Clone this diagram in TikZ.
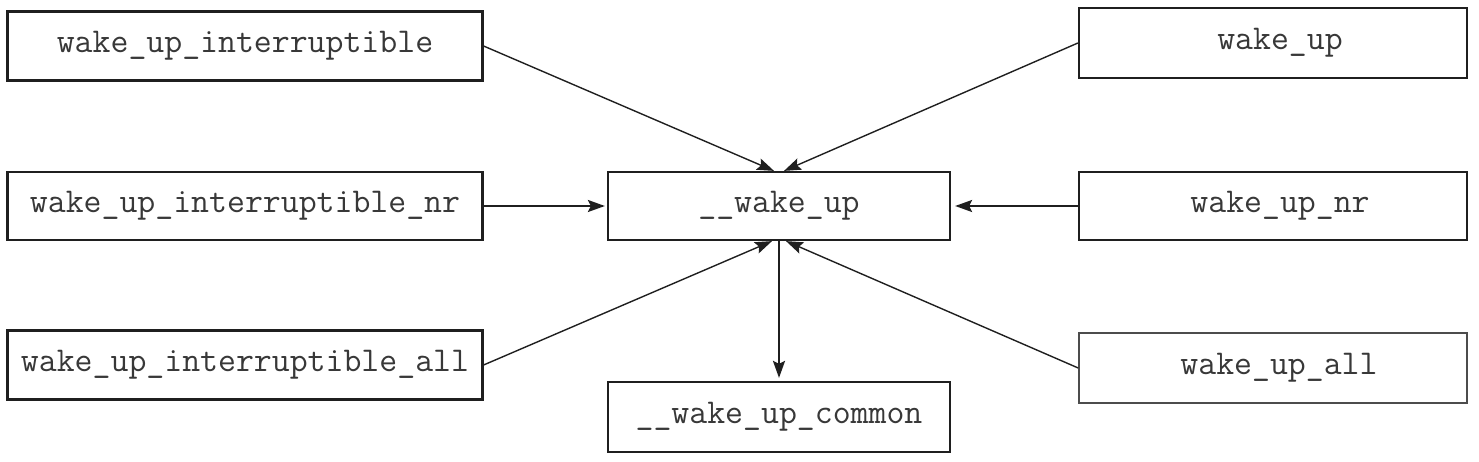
\documentclass[tikz,border=0pt]{standalone}
\usepackage{fontspec}
\usetikzlibrary{arrows.meta,positioning}

\begin{document}
\begin{tikzpicture}[x=1pt,y=-1pt,
    fn/.style={draw=black!88,line width=2.2pt,fill=white,inner sep=0pt,
      text=black!78,font=\ttfamily\fontsize{34.8}{40}\selectfont},
    call/.style={-{Stealth[length=17pt,width=12pt,inset=3pt]},line width=1.4pt,black!88},
    callh/.style={call,line width=2pt}]
  \useasboundingbox (0,0) rectangle (1479,462);

  % callers on the left
  \node[fn,minimum width=475,minimum height=69] (wui) at (245,46) {wake\_up\_interruptible};
  \node[fn,minimum width=475,minimum height=68] (wuin) at (245,206) {wake\_up\_interruptible\_nr};
  \node[fn,minimum width=475,minimum height=69] (wuia) at (245,365) {wake\_up\_interruptible\_all};

  % callers on the right
  \node[fn,minimum width=388,minimum height=70] (wu) at (1273,43) {\hspace{14pt}wake\_up};
  \node[fn,minimum width=388,minimum height=68] (wun) at (1273,206) {\hspace{14pt}wake\_up\_nr};
  \node[fn,minimum width=388,minimum height=70,draw=black!70,line width=1.6pt] (wua) at (1273,368) {\hspace{12pt}wake\_up\_all};

  % core
  \node[fn,minimum width=342,minimum height=68] (wk) at (779,206) {\_\_wake\_up};
  \node[fn,minimum width=342,minimum height=70] (wkc) at (779,417) {\_\_wake\_up\_common};

  \draw[call] (wui.east) -- ([xshift=-5]wk.north);
  \draw[call] (wu.west) -- ([xshift=5]wk.north);
  \draw[callh,shorten >=2pt] (wuin.east) -- (wk.west);
  \draw[callh,shorten >=4pt] (wun.west) -- (wk.east);
  \draw[call] (wuia.east) -- ([xshift=-7]wk.south);
  \draw[call] (wua.west) -- ([xshift=7]wk.south);
  \draw[callh,line width=2.4pt,shorten >=3pt] (wk.south) -- (wkc.north);
\end{tikzpicture}
\end{document}
